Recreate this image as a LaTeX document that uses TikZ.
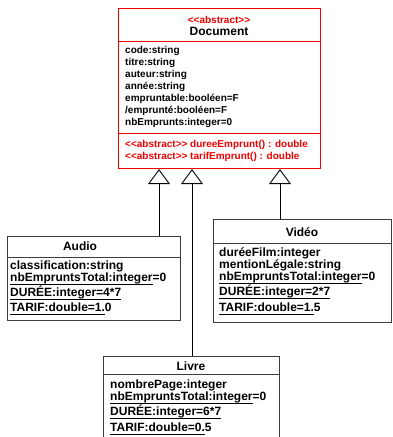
\documentclass[tikz,border=0pt]{standalone}
\usepackage{fontspec}
\setmainfont{Liberation Sans}
\usetikzlibrary{arrows.meta}
\definecolor{umlred}{RGB}{240,0,0}
\definecolor{boxline}{RGB}{60,60,60}
% static members: underline a part of the text
\newsavebox\ulbox
\newcommand\ulin[1]{\sbox\ulbox{#1}\rlap{\rule[-3.2pt]{\wd\ulbox}{0.8pt}}\usebox\ulbox}
\newcommand\stereotype{<{}<abstract>{}>}
\tikzset{
  classbox/.style={draw=boxline, line width=1pt, fill=white, inner sep=0pt, anchor=north west},
  docbox/.style={classbox, draw=umlred, line width=1.1pt},
  sep/.style={draw=boxline, line width=0.9pt},
  docsep/.style={draw=umlred, line width=0.9pt},
  attr/.style={inner sep=0pt, anchor=base west, font=\fontsize{12}{12}\selectfont\bfseries},
  title/.style={attr, anchor=base},
  docattr/.style={attr, font=\fontsize{10}{12}\selectfont\bfseries},
  docmeth/.style={docattr, text=umlred},
  stereo/.style={docattr, anchor=base, text=umlred},
  inherit/.style={draw=black, line width=0.9pt, -{Triangle[open, width=22pt, length=15pt]}}
}
\begin{document}
\begin{tikzpicture}[x=1pt, y=-1pt]
\useasboundingbox (0,0) rectangle (392,437);
\clip (0,0) rectangle (392,437);

% abstract class Document
\node[docbox, minimum width=202pt, minimum height=160pt] (doc) at (118,8) {};
\node[stereo] (docst) at (219,23.6) {\stereotype};
\node[title] (doct) at (219,35.3) {Document};
\draw[docsep] (doc.west |- 0,41) -- (doc.east |- 0,41);
\node[docattr] (d1) at (125,53.6) {code:string};
\node[docattr] (d2) at (125,65.6) {titre:string};
\node[docattr] (d3) at (125,77.6) {auteur:string};
\node[docattr] (d4) at (125,89.6) {année:string};
\node[docattr] (d5) at (125,101.6) {empruntable:booléen=F};
\node[docattr] (d6) at (125,113.6) {/emprunté:booléen=F};
\node[docattr] (d7) at (125,125.6) {nbEmprunts:integer=0};
\draw[docsep] (doc.west |- 0,133) -- (doc.east |- 0,133);
\node[docmeth] (m1) at (125,147.6) {\stereotype{} dureeEmprunt() : double};
\node[docmeth] (m2) at (125,159.6) {\stereotype{} tarifEmprunt() : double};

% class Audio
\node[classbox, minimum width=173pt, minimum height=84pt] (audio) at (7,236) {};
\node[title] (audiot) at (80,250.3) {Audio};
\draw[sep] (audio.west |- 0,257) -- (audio.east |- 0,257);
\node[attr] (a1) at (10,269.3) {classification:string};
\node[attr] (a2) at (10,281.3) {\ulin{nbEmpruntsTotal:integer}=0};
\node[attr] (a3) at (10,296.3) {\ulin{DURÉE:integer=4*7}};
\node[attr] (a4) at (10,311.3) {\ulin{TARIF:double=1.}0};

% class Vidéo
\node[classbox, minimum width=178pt, minimum height=103pt] (video) at (213,219) {};
\node[title] (videot) at (302,236.3) {Vidéo};
\draw[sep] (video.west |- 0,243) -- (video.east |- 0,243);
\node[attr] (v1) at (219,256.3) {duréeFilm:integer};
\node[attr] (v2) at (219,268.3) {mentionLégale:string};
\node[attr] (v3) at (219,280.3) {\ulin{nbEmpruntsTotal:integer}=0};
\node[attr] (v4) at (219,295.3) {\ulin{DURÉE:integer=2*7}};
\node[attr] (v5) at (219,311.3) {\ulin{TARIF:double=1.}5};

% class Livre
\node[classbox, minimum width=176pt, minimum height=100pt] (livre) at (103,356) {};
\node[title] (livret) at (191,370.3) {Livre};
\draw[sep] (livre.west |- 0,374) -- (livre.east |- 0,374);
\node[attr] (l1) at (110,388.3) {nombrePage:integer};
\node[attr] (l2) at (110,400.3) {\ulin{nbEmpruntsTotal:integer}=0};
\node[attr] (l3) at (110,415.3) {\ulin{DURÉE:integer=6*7}};
\node[attr] (l4) at (110,431.3) {\ulin{TARIF:double=0.}5};

% generalisation arrows
\coordinate (xa) at (159,0);
\coordinate (xl) at (192,0);
\coordinate (xv) at (280,0);
\draw[inherit] (audio.north -| xa) -- (doc.south -| xa);
\draw[inherit] (livre.north -| xl) -- (doc.south -| xl);
\draw[inherit] (video.north -| xv) -- (doc.south -| xv);
\end{tikzpicture}
\end{document}
